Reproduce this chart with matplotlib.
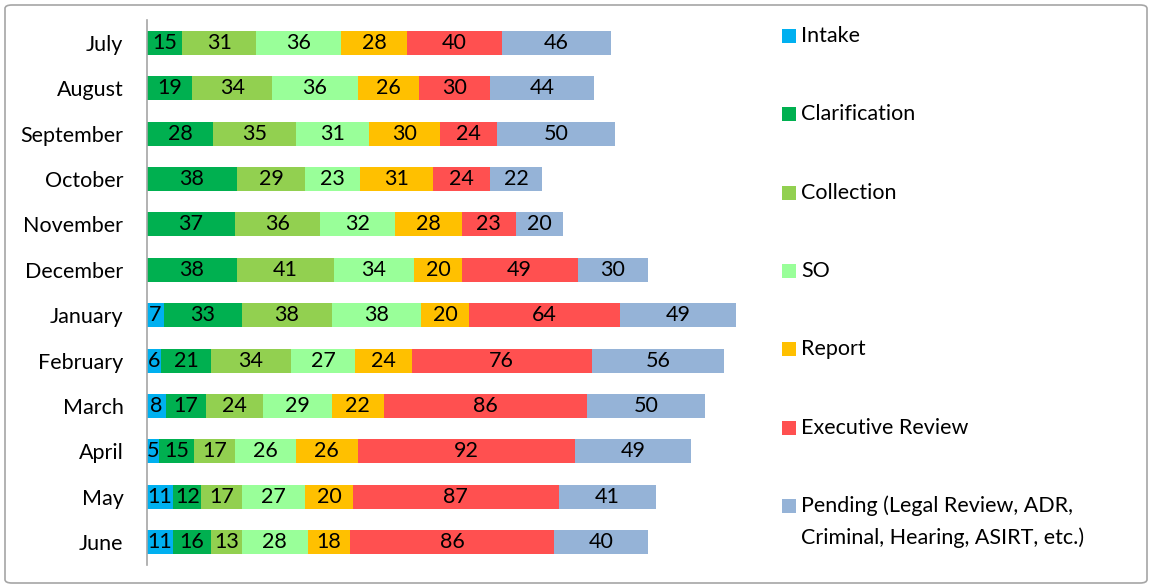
import matplotlib
matplotlib.use("Agg")
import matplotlib.pyplot as plt
from matplotlib.patches import Rectangle, FancyBboxPatch
import numpy as np

months = ["July", "August", "September", "October", "November", "December",
          "January", "February", "March", "April", "May", "June"]
categories = ["Intake", "Clarification", "Collection", "SO", "Report",
              "Executive Review",
              "Pending (Legal Review, ADR,\nCriminal, Hearing, ASIRT, etc.)"]
intake        = [0, 0, 0, 0, 0, 0, 7, 6, 8, 5, 11, 11]
clarification = [15, 19, 28, 38, 37, 38, 33, 21, 17, 15, 12, 16]
collection    = [31, 34, 35, 29, 36, 41, 38, 34, 24, 17, 17, 13]
so            = [36, 36, 31, 23, 32, 34, 38, 27, 29, 26, 27, 28]
report        = [28, 26, 30, 31, 28, 20, 20, 24, 22, 26, 20, 18]
exec_review   = [40, 30, 24, 24, 23, 49, 64, 76, 86, 92, 87, 86]
pending       = [46, 44, 50, 22, 20, 30, 49, 56, 50, 49, 41, 40]
series = [intake, clarification, collection, so, report, exec_review, pending]
colors = ["#00B0F0", "#00B050", "#92D050", "#99FF99", "#FFC000", "#FF5050", "#95B3D7"]

plt.rcParams['font.family'] = ['Lato', 'DejaVu Sans']
FS = 15.5

fig = plt.figure(figsize=(11.54, 5.87), dpi=100, facecolor="white")
W, H = 1154, 587
# border
fig.patches.append(FancyBboxPatch((5 / W, 4 / H), 1142 / W, 578 / H,
                                  boxstyle="round,pad=0,rounding_size=0.006",
                                  transform=fig.transFigure, facecolor="none",
                                  edgecolor="#A6A6A6", linewidth=1.2, zorder=0))

ax = fig.add_axes([147 / W, 1 - 565 / H, (762 - 147) / W, (565 - 20) / H])
ax.set_facecolor("none")
y = np.arange(len(months))
left = np.zeros(len(months))
for vals, col in zip(series, colors):
    vals = np.array(vals, dtype=float)
    ax.barh(y, vals, left=left, color=col, height=0.53, edgecolor="none")
    for yi, (v, l) in enumerate(zip(vals, left)):
        if v > 0:
            ax.text(l + v / 2, yi, f"{int(v)}", ha="center", va="center",
                    fontsize=FS, color="black")
    left += vals

ax.set_xlim(0, 260)
ax.set_ylim(len(months) - 0.5, -0.5)
ax.set_yticks(y)
ax.set_yticklabels(months, fontsize=FS)
ax.tick_params(axis="y", length=0, pad=17)
ax.set_xticks([])
for s in ["top", "right", "bottom"]:
    ax.spines[s].set_visible(False)
ax.spines["left"].set_color("#A6A6A6")
ax.spines["left"].set_linewidth(1.2)

# legend
leg_y0 = 36
leg_step = 78.3
for i, (cat, col) in enumerate(zip(categories, colors)):
    yc = leg_y0 + i * leg_step
    fig.patches.append(Rectangle((782 / W, 1 - (yc + 7) / H), 14 / W, 14 / H,
                                 transform=fig.transFigure, facecolor=col,
                                 edgecolor="none"))
    for k, line in enumerate(cat.split("\n")):
        fig.text(801 / W, 1 - (yc + k * 32) / H, line, ha="left", va="center",
                 fontsize=FS, color="black")

fig.savefig("out.png", dpi=100)
